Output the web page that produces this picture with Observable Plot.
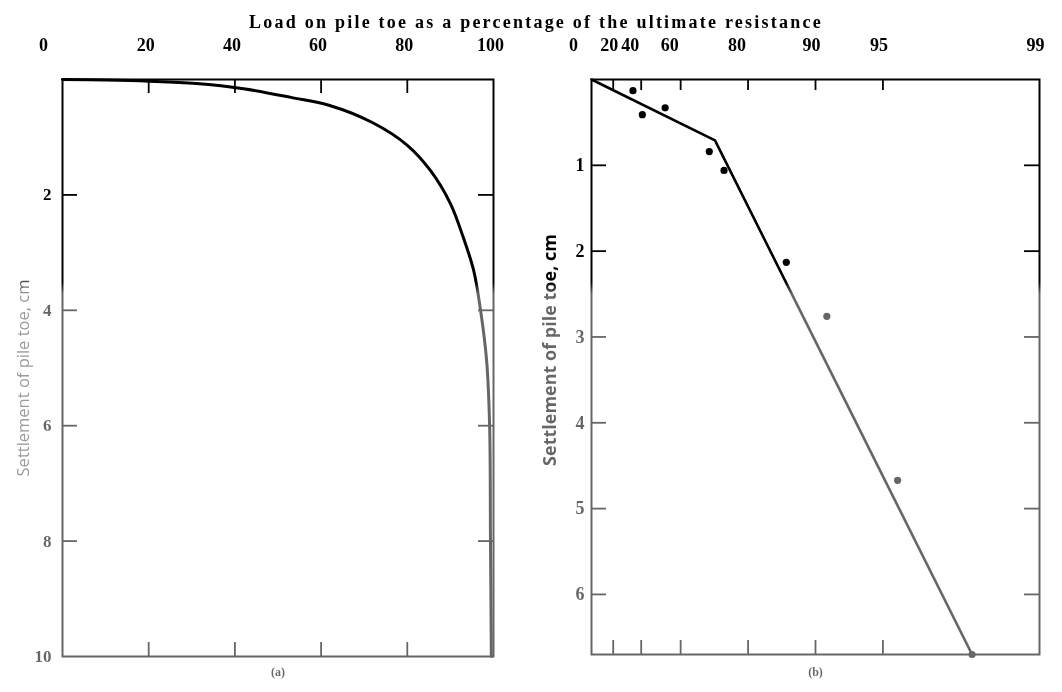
<!DOCTYPE html>
<html>
<head>
<meta charset="utf-8">
<script src="https://cdn.jsdelivr.net/npm/d3@7"></script>
<script src="https://cdn.jsdelivr.net/npm/@observablehq/plot@0.6"></script>
<style>
  html, body { margin: 0; padding: 0; background: #fff; }
  #fig {
    position: relative; width: 1062px; height: 692px; overflow: hidden; background: #fff;
    -webkit-mask-image: linear-gradient(to bottom, #000 0px, #000 282px, rgba(0,0,0,0.6) 294px, rgba(0,0,0,0.6) 692px);
    mask-image: linear-gradient(to bottom, #000 0px, #000 282px, rgba(0,0,0,0.6) 294px, rgba(0,0,0,0.6) 692px);
  }
  #title {
    position: absolute; top: 13px; left: 10px; width: 1052px; text-align: center;
    font-family: "Liberation Serif", serif; font-weight: bold; font-size: 18px; line-height: 18px;
    color: #000; white-space: nowrap;
  }
  .panel { position: absolute; top: 0; }
</style>
</head>
<body>
<div id="fig">
  <div id="panelA" class="panel" style="left:0px"></div>
  <div id="panelB" class="panel" style="left:530px"></div>
  <div id="title">Load on pile toe as a percentage of the ultimate resistance</div>
</div>
<script>
// ---------- data ----------
const titleText = "Load on pile toe as a percentage of the ultimate resistance";
const yLabel = "Settlement of pile toe, cm";

// Panel (a): load-settlement curve
const topTicksA = [20, 40, 60, 80, 100];
const innerTicksA = [20, 40, 60, 80];
const yTicksA = [2, 4, 6, 8, 10];
const innerYTicksA = [2, 4, 6, 8];
const loadA   = [0, 10, 20, 31, 42, 53, 62, 72, 80, 85.4, 90, 93, 95.4, 97, 98.4, 99.1, 99.3, 99.5];
const settleA = [0, 0.01, 0.03, 0.07, 0.16, 0.31, 0.45, 0.75, 1.14, 1.58, 2.15, 2.74, 3.31, 4.0, 4.87, 6.0, 8.0, 10];

// Panel (b): same test on a log(100 - load) scale
const topTicksB1 = [40, 60, 80];
const topTicksB2 = [20, 90, 95, 99];
const innerTicksB = [20, 40, 60, 80, 90, 95];
const yTicksB = [1, 2, 3, 4, 5, 6];
const loadPts   = [34.7, 40.7, 53.1, 70.2, 74.4, 86.5, 91.1, 95.7, 98.0];
const settlePts = [0.13, 0.41, 0.33, 0.84, 1.06, 2.13, 2.76, 4.67, 6.70];
const loadLine   = [0, 71.9, 98.0];
const settleLine = [0, 0.71, 6.70];

const curveA = loadA.map((l, i) => ({load: l, s: settleA[i]}));
const ptsB = loadPts.map((l, i) => ({load: l, s: settlePts[i]}));
const lineB = loadLine.map((l, i) => ({load: l, s: settleLine[i]}));

// title letter-spacing to match the reference width
(function () {
  const el = document.getElementById("title");
  const ctx = document.createElement("canvas").getContext("2d");
  ctx.font = 'bold 18px "Liberation Serif"';
  const w = ctx.measureText(titleText).width;
  const target = 574;
  el.style.letterSpacing = Math.max(0, (target - w) / titleText.length).toFixed(2) + "px";
})();

const serif = "Liberation Serif, serif";
const sans = "Open Sans, DejaVu Sans, sans-serif";
const fmt = d => String(d);

// ---------- panel (a) ----------
const WA = 530, HA = 692, mlA = 62, mrA = 37, mtA = 79, mbA = 36;
const fwA = WA - mlA - mrA, fhA = HA - mtA - mbA;
const tickLen = 14, yTickLen = 15;

const topLabel = (data, x, dx) => Plot.text(data, {
  x, text: fmt, frameAnchor: "top", lineAnchor: "bottom", dy: -29, dx,
  fontSize: 18, fontWeight: "bold", fontFamily: serif, fill: "#000"
});

const plotA = Plot.plot({
  width: WA, height: HA,
  marginLeft: mlA, marginRight: mrA, marginTop: mtA, marginBottom: mbA,
  style: {background: "transparent", fontFamily: serif, overflow: "visible", color: "#000"},
  x: {domain: [0, 100], axis: null},
  y: {domain: [0, 10], reverse: true, axis: null},
  marks: [
    Plot.frame({stroke: "#000", strokeWidth: 2}),
    Plot.ruleX(innerTicksA, {x: d => d, insetBottom: fhA - tickLen, strokeWidth: 1.8}),
    Plot.ruleX(innerTicksA, {x: d => d, insetTop: fhA - tickLen, strokeWidth: 1.8}),
    Plot.ruleY(innerYTicksA, {y: d => d, insetRight: fwA - yTickLen, strokeWidth: 1.8}),
    Plot.ruleY(innerYTicksA, {y: d => d, insetLeft: fwA - yTickLen, strokeWidth: 1.8}),
    topLabel([0], d => d, -19),
    topLabel(topTicksA, d => d, -3),
    Plot.axisY(yTicksA, {anchor: "left", label: null, tickSize: 0, tickPadding: 11, tickFormat: fmt, fontSize: 17, fontWeight: "bold", fontFamily: serif}),
    Plot.text([yLabel], {frameAnchor: "left", textAnchor: "middle", rotate: -90, dx: -39, dy: 10, fontSize: 16.5, fill: "#555", fontFamily: sans}),
    Plot.line(curveA, {x: "load", y: "s", curve: "catmull-rom", stroke: "#000", strokeWidth: 3}),
    Plot.text(["(a)"], {frameAnchor: "bottom", dy: 19, fontSize: 12, fontWeight: "bold", fontFamily: serif})
  ]
});
document.getElementById("panelA").appendChild(plotA);

// ---------- panel (b) ----------
const WB = 532, HB = 692, mlB = 61, mrB = 23, mtB = 79, mbB = 38;
const fwB = WB - mlB - mrB, fhB = HB - mtB - mbB;
const rem = d => 100 - d;

const plotB = Plot.plot({
  width: WB, height: HB,
  marginLeft: mlB, marginRight: mrB, marginTop: mtB, marginBottom: mbB,
  style: {background: "transparent", fontFamily: serif, overflow: "visible", color: "#000"},
  x: {type: "log", domain: [100, 1], axis: null},
  y: {domain: [0, 6.7], reverse: true, axis: null},
  marks: [
    Plot.frame({stroke: "#000", strokeWidth: 2}),
    Plot.ruleX(innerTicksB, {x: rem, insetBottom: fhB - tickLen + 3, strokeWidth: 1.8}),
    Plot.ruleX(innerTicksB, {x: rem, insetTop: fhB - tickLen, strokeWidth: 1.8}),
    Plot.ruleY(yTicksB, {y: d => d, insetRight: fwB - yTickLen, strokeWidth: 1.8}),
    Plot.ruleY(yTicksB, {y: d => d, insetLeft: fwB - yTickLen, strokeWidth: 1.8}),
    topLabel([0], rem, -18),
    topLabel(topTicksB1, rem, -11),
    topLabel(topTicksB2, rem, -4),
    Plot.axisY(yTicksB, {anchor: "left", label: null, tickSize: 0, tickPadding: 7, tickFormat: fmt, fontSize: 18, fontWeight: "bold", fontFamily: serif}),
    Plot.text([yLabel], {frameAnchor: "left", textAnchor: "middle", rotate: -90, dx: -41, dy: -17, fontSize: 18, fontWeight: "bold", fill: "#000", fontFamily: sans}),
    Plot.line(lineB, {x: d => rem(d.load), y: "s", stroke: "#000", strokeWidth: 2.6}),
    Plot.dot(ptsB, {x: d => rem(d.load), y: "s", r: 3.6, fill: "#000", stroke: "none"}),
    Plot.text(["(b)"], {frameAnchor: "bottom", dy: 21, fontSize: 12, fontWeight: "bold", fontFamily: serif})
  ]
});
document.getElementById("panelB").appendChild(plotB);
</script>
</body>
</html>
